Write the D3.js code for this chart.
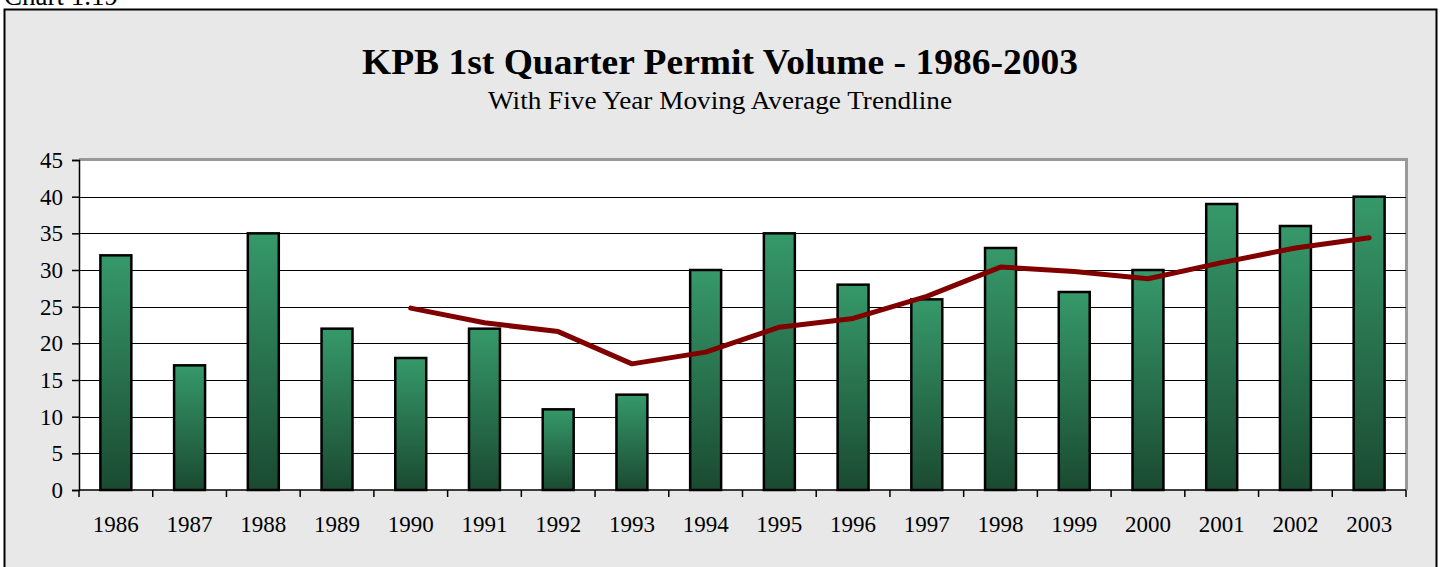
<!DOCTYPE html>
<html>
<head>
<meta charset="utf-8">
<script src="https://cdn.jsdelivr.net/npm/d3@7"></script>
<style>
  body { margin: 0; background: #fff; }
  svg { display: block; font-family: "Liberation Serif", "Times New Roman", serif; }
</style>
</head>
<body>
<script>
var width = 1442;
var height = 567;

// data
var years = ["1986", "1987", "1988", "1989", "1990", "1991", "1992", "1993", "1994",
             "1995", "1996", "1997", "1998", "1999", "2000", "2001", "2002", "2003"];
var permits = [32, 17, 35, 22, 18, 22, 11, 13, 30, 35, 28, 26, 33, 27, 30, 39, 36, 40];
// five year moving average, starts at 1990
var avgYears = ["1990", "1991", "1992", "1993", "1994", "1995", "1996", "1997",
                "1998", "1999", "2000", "2001", "2002", "2003"];
var avgValues = [24.8, 22.8, 21.6, 17.2, 18.8, 22.2, 23.4, 26.4, 30.4, 29.8, 28.8, 31, 33, 34.4];
var yTicks = [0, 5, 10, 15, 20, 25, 30, 35, 40, 45];

var plot = { left: 79, right: 1406, top: 160, bottom: 490 };

var svg = d3.select("body").append("svg")
    .attr("width", width)
    .attr("height", height);

var defs = svg.append("defs");
var grad = defs.append("linearGradient")
    .attr("id", "barGrad")
    .attr("x1", 0).attr("y1", 0).attr("x2", 0).attr("y2", 1);
grad.append("stop").attr("offset", "0%").attr("stop-color", "#36996a");
grad.append("stop").attr("offset", "100%").attr("stop-color", "#1a4a31");

// caption, cut off at top like the scan
svg.append("text")
    .attr("x", 4).attr("y", 5)
    .attr("font-size", 27)
    .attr("fill", "#000")
    .text("Chart 1.19");

// outer frame
svg.append("rect")
    .attr("x", 4.5).attr("y", 9.5)
    .attr("width", 1432).attr("height", 580)
    .attr("fill", "#e8e8e8")
    .attr("stroke", "#000")
    .attr("stroke-width", 2);

svg.append("text")
    .attr("x", 720).attr("y", 74)
    .attr("text-anchor", "middle")
    .attr("font-size", 36)
    .attr("font-weight", "bold")
    .attr("textLength", 716)
    .attr("lengthAdjust", "spacingAndGlyphs")
    .text("KPB 1st Quarter Permit Volume - 1986-2003");

svg.append("text")
    .attr("x", 720).attr("y", 109)
    .attr("text-anchor", "middle")
    .attr("font-size", 25)
    .attr("textLength", 464)
    .attr("lengthAdjust", "spacingAndGlyphs")
    .text("With Five Year Moving Average Trendline");

var x = d3.scaleBand()
    .domain(years)
    .range([plot.left, plot.right])
    .paddingInner(0.58)
    .paddingOuter(0.29);

var y = d3.scaleLinear()
    .domain([0, 45])
    .range([plot.bottom, plot.top]);

// plot background with grey border on top/right
svg.append("rect")
    .attr("x", plot.left).attr("y", plot.top)
    .attr("width", plot.right - plot.left)
    .attr("height", plot.bottom - plot.top)
    .attr("fill", "#fff");
svg.append("path")
    .attr("d", "M" + plot.left + "," + (plot.top - 0.5) + "H" + (plot.right + 0.5) + "V" + plot.bottom)
    .attr("fill", "none")
    .attr("stroke", "#999")
    .attr("stroke-width", 3);

// gridlines
svg.append("g")
  .selectAll("line")
  .data(yTicks.filter(function(d) { return d > 0 && d < 45; }))
  .enter().append("line")
    .attr("x1", plot.left).attr("x2", plot.right)
    .attr("y1", function(d) { return Math.round(y(d)) + 0.5; })
    .attr("y2", function(d) { return Math.round(y(d)) + 0.5; })
    .attr("stroke", "#000")
    .attr("stroke-width", 1);

// bars
svg.append("g")
  .selectAll("rect")
  .data(permits)
  .enter().append("rect")
    .attr("x", function(d, i) { return x(years[i]); })
    .attr("y", function(d) { return y(d); })
    .attr("width", x.bandwidth())
    .attr("height", function(d) { return y(0) - y(d); })
    .attr("fill", "url(#barGrad)")
    .attr("stroke", "#000")
    .attr("stroke-width", 2.5);

// moving average line
var line = d3.line()
    .x(function(d, i) { return x(avgYears[i]) + x.bandwidth() / 2; })
    .y(function(d) { return y(d); });

svg.append("path")
    .datum(avgValues)
    .attr("d", line)
    .attr("fill", "none")
    .attr("stroke", "#800000")
    .attr("stroke-width", 5)
    .attr("stroke-linecap", "round")
    .attr("stroke-linejoin", "round");

// y axis
var yAxis = svg.append("g")
    .attr("transform", "translate(" + plot.left + ",0)")
    .call(d3.axisLeft(y).tickValues(yTicks).tickSize(7).tickPadding(9));
yAxis.select(".domain").attr("stroke", "#000").attr("stroke-width", 1.5);
yAxis.selectAll(".tick line").attr("stroke", "#000").attr("stroke-width", 1.5);
yAxis.selectAll("text")
    .attr("font-family", "Liberation Serif, Times New Roman, serif")
    .attr("font-size", 23)
    .attr("fill", "#000");

// x axis, ticks between categories
var bounds = d3.range(years.length + 1).map(function(i) {
  return plot.left + i * (plot.right - plot.left) / years.length;
});
svg.append("line")
    .attr("x1", plot.left).attr("x2", plot.right)
    .attr("y1", plot.bottom).attr("y2", plot.bottom)
    .attr("stroke", "#000").attr("stroke-width", 1.5);
svg.append("g")
  .selectAll("line")
  .data(bounds)
  .enter().append("line")
    .attr("x1", function(d) { return d; }).attr("x2", function(d) { return d; })
    .attr("y1", plot.bottom).attr("y2", plot.bottom + 7)
    .attr("stroke", "#000").attr("stroke-width", 1.5);

svg.append("g")
  .selectAll("text")
  .data(years)
  .enter().append("text")
    .attr("x", function(d) { return x(d) + x.bandwidth() / 2; })
    .attr("y", 532)
    .attr("text-anchor", "middle")
    .attr("font-size", 23)
    .text(function(d) { return d; });
</script>
</body>
</html>
